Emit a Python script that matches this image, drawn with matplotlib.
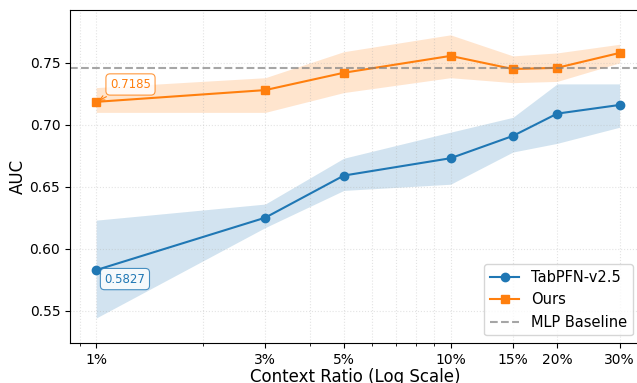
import numpy as np
import matplotlib.pyplot as plt
from matplotlib.ticker import FixedLocator, FixedFormatter, LogLocator, NullFormatter

# context ratios (%)
ratios = [1, 3, 5, 10, 15, 20, 30]
tick_labels = ["1%", "3%", "5%", "10%", "15%", "20%", "30%"]

tabpfn = [0.5827, 0.625, 0.659, 0.673, 0.691, 0.709, 0.716]
tabpfn_lo = [0.544, 0.617, 0.647, 0.652, 0.678, 0.685, 0.698]
tabpfn_hi = [0.623, 0.636, 0.673, 0.694, 0.706, 0.733, 0.733]

ours = [0.7185, 0.728, 0.742, 0.7556, 0.745, 0.746, 0.758]
ours_lo = [0.710, 0.710, 0.726, 0.738, 0.734, 0.735, 0.750]
ours_hi = [0.730, 0.738, 0.759, 0.7726, 0.7556, 0.758, 0.765]

mlp_baseline = 0.746

fig, ax = plt.subplots(figsize=(6.37, 3.83), dpi=100)

ax.fill_between(ratios, tabpfn_lo, tabpfn_hi, color='tab:blue', alpha=0.2, linewidth=0)
ax.fill_between(ratios, ours_lo, ours_hi, color='tab:orange', alpha=0.2, linewidth=0)
ax.plot(ratios, tabpfn, marker='o', color='tab:blue', lw=1.5, ms=6, label='TabPFN-v2.5')
ax.plot(ratios, ours, marker='s', color='tab:orange', lw=1.5, ms=6, label='Ours')
ax.axhline(mlp_baseline, color='gray', ls='--', lw=1.5, alpha=0.7, label='MLP Baseline')

ax.annotate(f"{ours[0]:.4f}", xy=(ratios[0], ours[0]), xytext=(10, 10), textcoords='offset points',
            color='tab:orange', fontsize=8.5,
            bbox=dict(boxstyle='round,pad=0.35', fc='white', ec='tab:orange', alpha=0.8, lw=0.8),
            arrowprops=dict(arrowstyle='->', color='tab:orange', lw=0.8))
ax.annotate(f"{tabpfn[0]:.4f}", xy=(ratios[0], tabpfn[0]), xytext=(6, -9), textcoords='offset points',
            color='tab:blue', fontsize=8.5,
            bbox=dict(boxstyle='round,pad=0.35', fc='white', ec='tab:blue', alpha=0.8, lw=0.8),
            arrowprops=dict(arrowstyle='->', color='tab:blue', lw=0.8))

ax.set_xscale('log')
ax.xaxis.set_major_locator(FixedLocator(ratios))
ax.xaxis.set_major_formatter(FixedFormatter(tick_labels))
ax.xaxis.set_minor_locator(LogLocator(base=10, subs=np.arange(2, 10)))
ax.xaxis.set_minor_formatter(NullFormatter())
ax.set_xlim(0.844, 34.3)
ax.set_ylim(0.524, 0.793)
ax.set_yticks([0.55, 0.60, 0.65, 0.70, 0.75])
ax.tick_params(labelsize=10)

ax.set_xlabel("Context Ratio (Log Scale)", fontsize=12, labelpad=1)
ax.set_ylabel("AUC", fontsize=12, labelpad=2)
ax.grid(True, which='both', ls=':', alpha=0.35)
ax.legend(loc='lower right', fontsize=10.5)

fig.subplots_adjust(left=0.11, right=1.005, bottom=0.105, top=0.975)
fig.savefig("out.png")
